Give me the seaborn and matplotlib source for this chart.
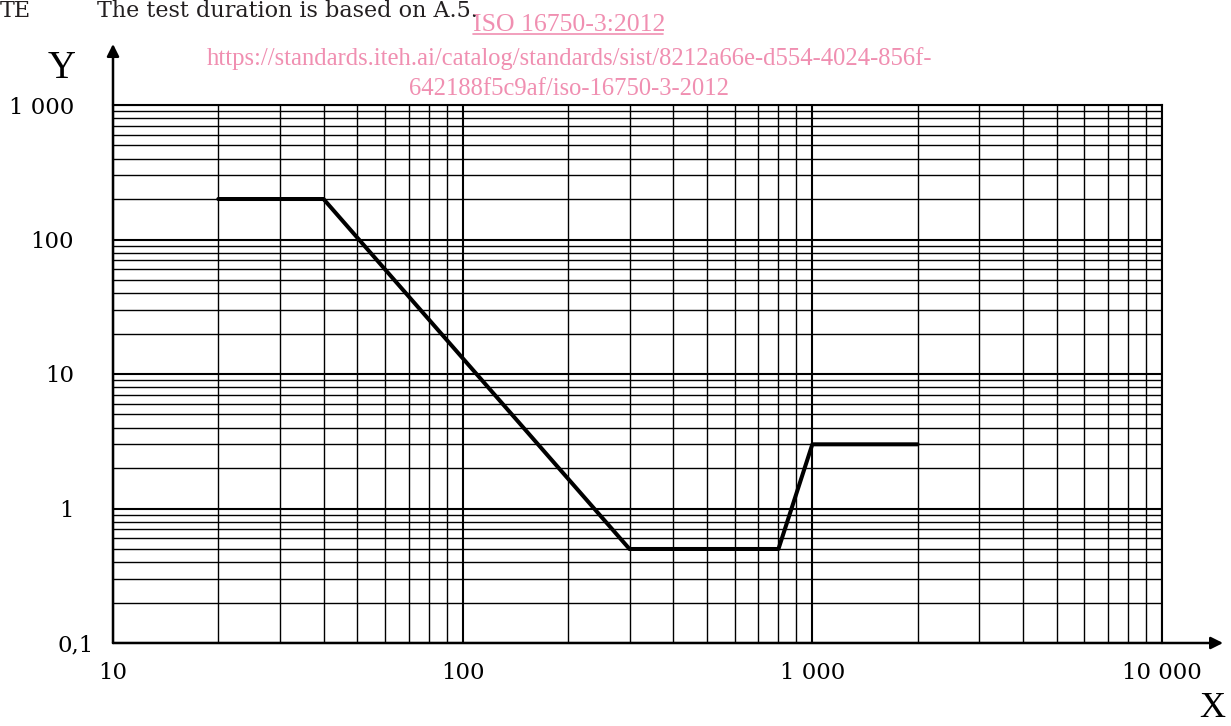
import pandas as pd
import numpy as np
import seaborn as sns
import matplotlib.pyplot as plt
from matplotlib.ticker import LogLocator, NullFormatter, FixedLocator, FixedFormatter
from matplotlib.transforms import ScaledTranslation
from matplotlib.lines import Line2D

# curve breakpoints
x_vals = [20, 40, 300, 800, 1000, 2000]
y_vals = [200, 200, 0.5, 0.5, 3, 3]

x_ticks = [10, 100, 1000, 10000]
x_labels = ['10', '100', '1 000', '10 000']
y_ticks = [0.1, 1, 10, 100, 1000]
y_labels = ['0,1', '1', '10', '100', '1 000']

df = pd.DataFrame({'x': x_vals, 'y': y_vals})

sns.set_theme(style='white')
plt.rcParams['font.family'] = ['DejaVu Serif']

W, H = 1231, 726
fig = plt.figure(figsize=(W / 100, H / 100), dpi=100)
ax = fig.add_axes([113 / W, 83 / H, 1049 / W, 538 / H])

ax.set_xscale('log')
ax.set_yscale('log')
sns.lineplot(data=df, x='x', y='y', sort=False, color='black', linewidth=2.9,
             ax=ax, zorder=5)
ax.set_xlim(10, 10000)
ax.set_ylim(0.1, 1000)

ax.xaxis.set_major_locator(FixedLocator(x_ticks))
ax.xaxis.set_major_formatter(FixedFormatter(x_labels))
ax.yaxis.set_major_locator(FixedLocator(y_ticks))
ax.yaxis.set_major_formatter(FixedFormatter(y_labels))
ax.xaxis.set_minor_locator(LogLocator(base=10, subs=range(2, 10)))
ax.yaxis.set_minor_locator(LogLocator(base=10, subs=range(2, 10)))
ax.xaxis.set_minor_formatter(NullFormatter())
ax.yaxis.set_minor_formatter(NullFormatter())

ax.grid(which='major', color='black', linewidth=1.5)
ax.grid(which='minor', color='black', linewidth=1.0)
ax.tick_params(which='both', length=0)
ax.tick_params(axis='x', pad=14, labelsize=16.5, labelcolor='black')
ax.tick_params(axis='y', pad=28, labelsize=16.5, labelcolor='black')
ax.set_xlabel('')
ax.set_ylabel('')

for s in ['left', 'bottom']:
    ax.spines[s].set_visible(False)
for s in ['top', 'right']:
    ax.spines[s].set_color('black')
    ax.spines[s].set_linewidth(1.5)

# "0,1" sits a bit to the right of the others
lab = ax.get_yticklabels()[0]
lab.set_transform(lab.get_transform() + ScaledTranslation(0.2, 0, fig.dpi_scale_trans))

# axis arrows
ax.annotate('', xy=(0, 1.1134), xytext=(0, 0), xycoords='axes fraction',
            textcoords='axes fraction', annotation_clip=False,
            arrowprops=dict(arrowstyle='-|>', color='black', lw=1.8,
                            mutation_scale=18, shrinkA=0, shrinkB=0))
ax.annotate('', xy=(1.0582, 0), xytext=(0, 0), xycoords='axes fraction',
            textcoords='axes fraction', annotation_clip=False,
            arrowprops=dict(arrowstyle='-|>', color='black', lw=1.8,
                            mutation_scale=18, shrinkA=0, shrinkB=0))

serif = ['Liberation Serif', 'DejaVu Serif']
fig.text(62 / W, 1 - 78 / H, 'Y', fontsize=28, ha='center', va='baseline',
         color='black', family=serif)
fig.text(1212 / W, 1 - 725 / H, 'X', fontsize=26, ha='center', va='bottom',
         color='black', family=serif)

# header text
dark = '#231f20'
pink = '#f08fb1'
fig.text(0 / W, 1 - 17 / H, 'TE', fontsize=16, ha='left', va='baseline', color=dark)
fig.text(97 / W, 1 - 17 / H, 'The test duration is based on A.5.', fontsize=16,
         ha='left', va='baseline', color=dark)
fig.text(473 / W, 1 - 31 / H, 'ISO 16750-3:2012', fontsize=18.5, ha='left',
         va='baseline', color=pink, family=serif)
fig.add_artist(Line2D([473 / W, 663 / W], [1 - 34 / H, 1 - 34 / H], color=pink, lw=1.2))
fig.text(570 / W, 1 - 65 / H,
         'https://standards.iteh.ai/catalog/standards/sist/8212a66e-d554-4024-856f-',
         fontsize=17.7, ha='center', va='baseline', color=pink, family=serif)
fig.text(569 / W, 1 - 95 / H, '642188f5c9af/iso-16750-3-2012', fontsize=17.7,
         ha='center', va='baseline', color=pink, family=serif)

fig.savefig('out.png', dpi=100, facecolor='white')
